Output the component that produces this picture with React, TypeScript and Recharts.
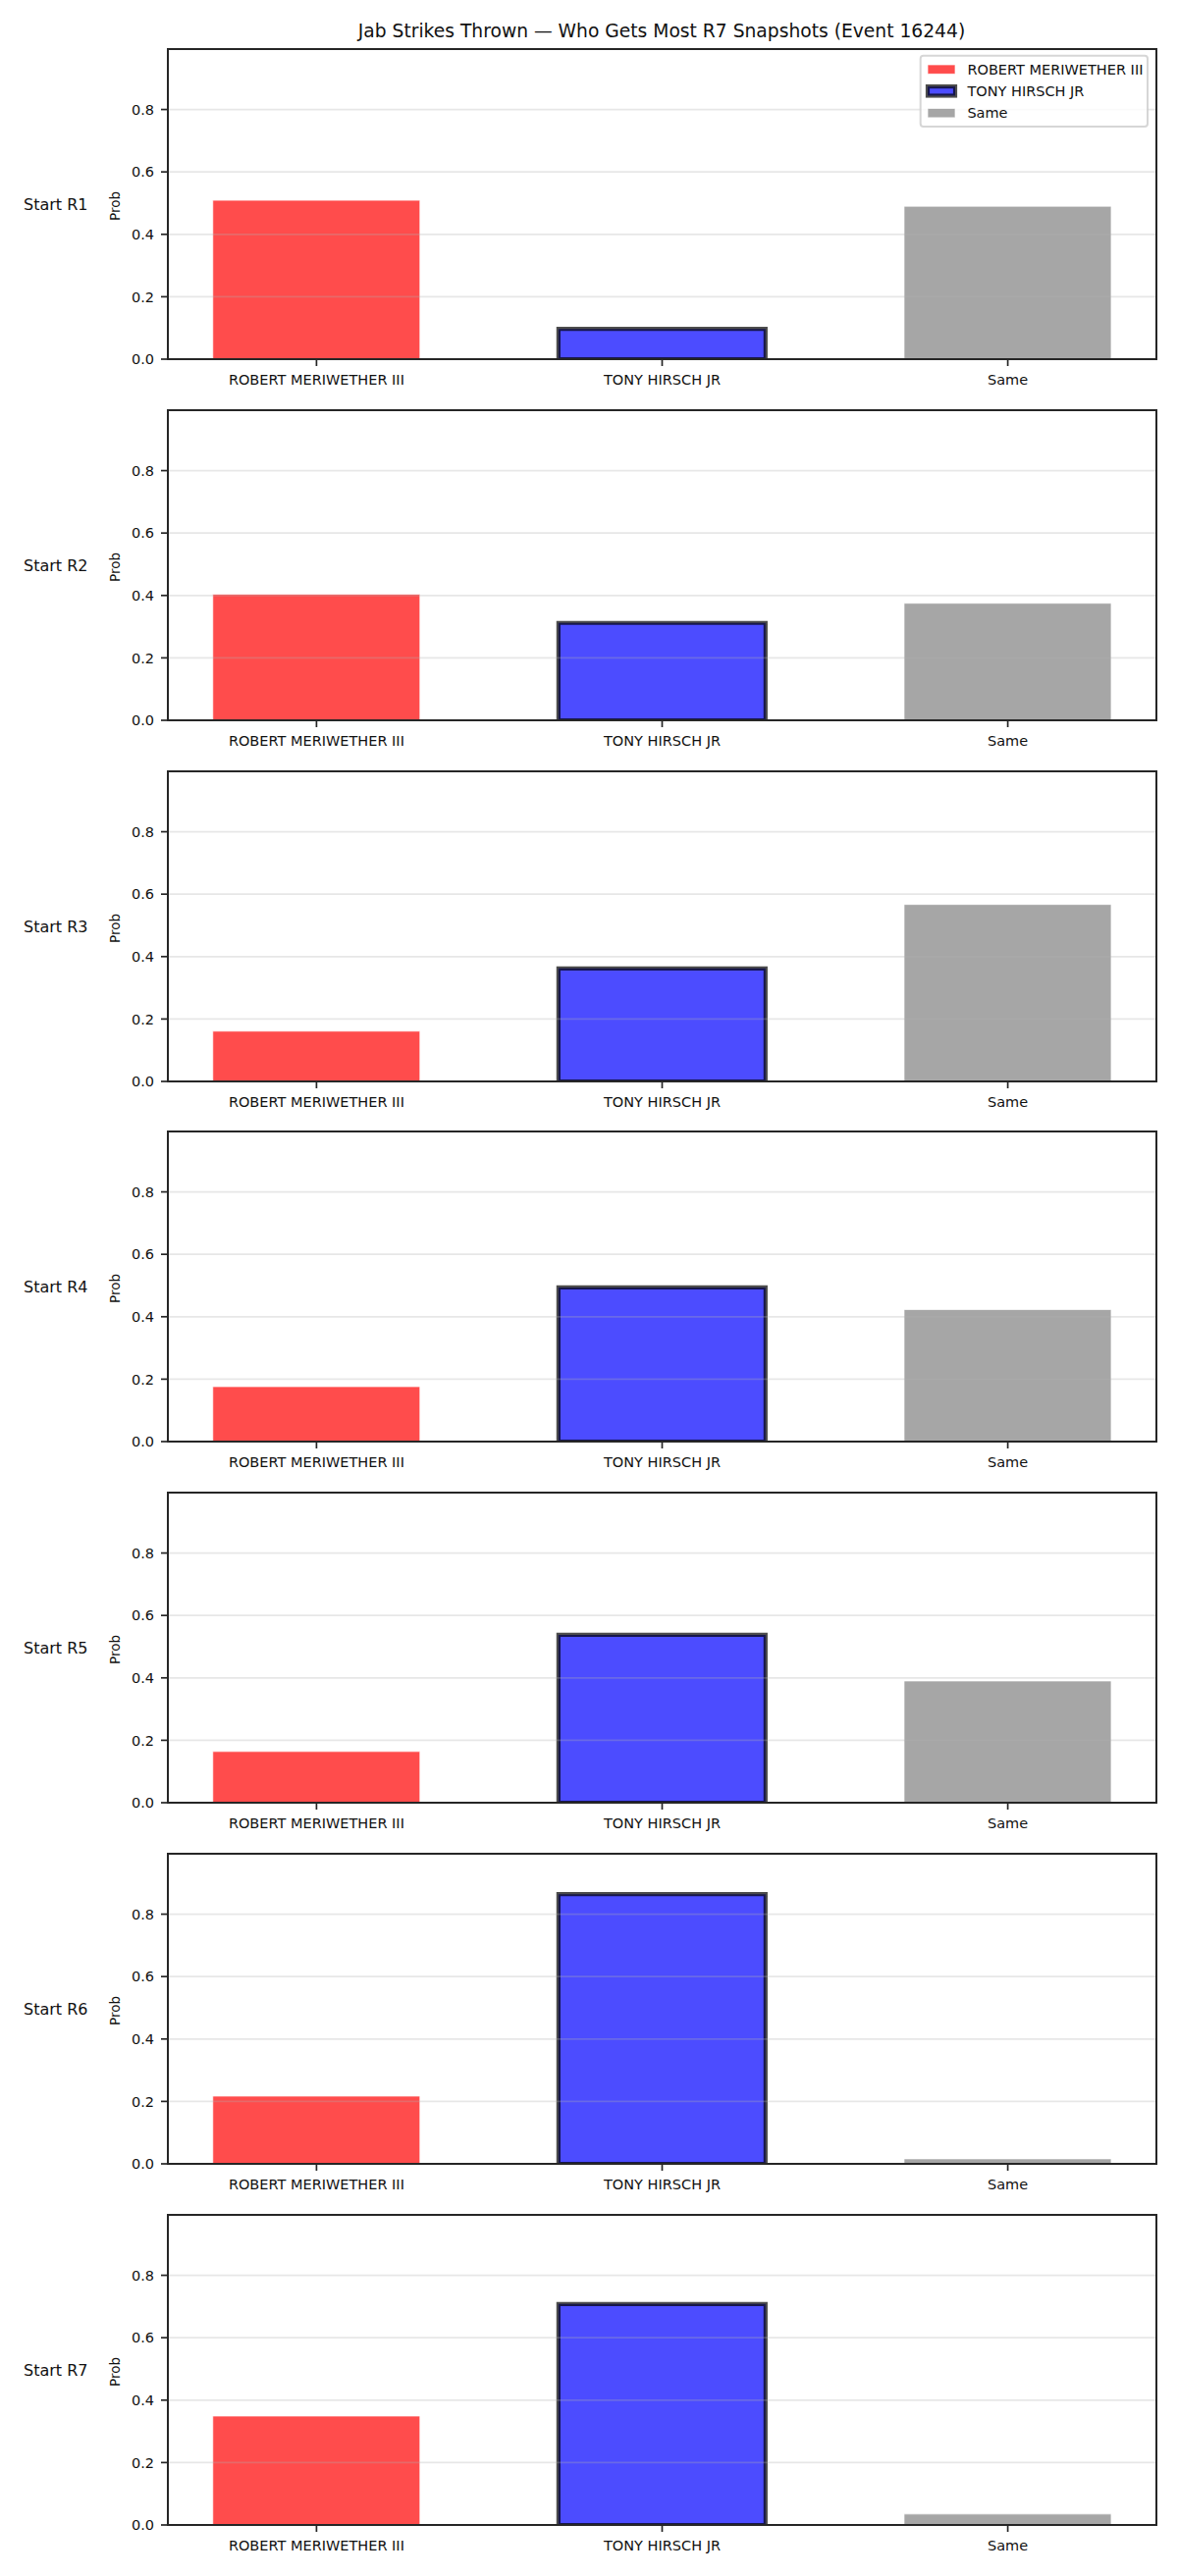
import React from 'react';
import { BarChart, Bar, XAxis, YAxis, CartesianGrid, Cell, ReferenceArea } from 'recharts';

// Outcome categories shown on each panel's x axis
const categories = ['ROBERT MERIWETHER III', 'TONY HIRSCH JR', 'Same'];

// One panel per starting round
const roundLabels = ['Start R1', 'Start R2', 'Start R3', 'Start R4', 'Start R5', 'Start R6', 'Start R7'];

// Probability that each outcome gets the most R7 snapshots, per starting round
const robertProb = [0.509, 0.404, 0.161, 0.176, 0.164, 0.217, 0.349];
const tonyProb = [0.097, 0.312, 0.362, 0.494, 0.538, 0.864, 0.708];
const sameProb = [0.490, 0.375, 0.567, 0.423, 0.390, 0.016, 0.035];

const yTicks = [0, 0.2, 0.4, 0.6, 0.8];
const xTicks = [0, 1, 2];

const TITLE = 'Jab Strikes Thrown \u2014 Who Gets Most R7 Snapshots (Event 16244)';
const FONT = '"DejaVu Sans", "Liberation Sans", sans-serif';

const seriesProbs = [robertProb, tonyProb, sameProb];
const Y_MAX = Math.max(...tonyProb, ...robertProb, ...sameProb) * 1.15;
const X_DOMAIN: [number, number] = [-0.43, 2.43];

const SPINE = '#262626';

type Look = { fill: string; stroke: string; strokeOpacity: number; strokeWidth: number };
const looks: Look[] = [
  { fill: '#ff0000', stroke: '#ffffff', strokeOpacity: 0.7, strokeWidth: 1 },
  { fill: '#0000ff', stroke: '#000000', strokeOpacity: 0.7, strokeWidth: 4.2 },
  { fill: '#808080', stroke: '#ffffff', strokeOpacity: 0.7, strokeWidth: 1 },
];

const PANEL_PITCH = 367.83;
const CHART_H = 410;
const PLOT_TOP = 50;
const PLOT_H = 316;

function Panel({ index }: { index: number }) {
  const data = categories.map((name, i) => ({ pos: i, name, prob: seriesProbs[i][index] }));
  const top = Math.round(index * PANEL_PITCH);
  return (
    <div style={{ position: 'absolute', left: 0, top, width: 1200, height: CHART_H }}>
      <BarChart
        width={1200}
        height={CHART_H}
        data={data}
        margin={{ top: PLOT_TOP, right: 22, bottom: 0, left: 0 }}
        barCategoryGap="20%"
      >
        <XAxis
          type="number"
          dataKey="pos"
          domain={X_DOMAIN}
          ticks={xTicks}
          interval={0}
          allowDataOverflow
          tickFormatter={(v: number) => categories[v] ?? ''}
          height={CHART_H - PLOT_TOP - PLOT_H}
          tickSize={7}
          tickMargin={9}
          axisLine={{ stroke: SPINE, strokeWidth: 2 }}
          tickLine={{ stroke: SPINE, strokeWidth: 1.7 }}
          tick={{ fontSize: 14.5, fill: '#111', fontFamily: FONT }}
        />
        <YAxis
          type="number"
          domain={[0, Y_MAX]}
          ticks={yTicks}
          interval={0}
          allowDataOverflow
          width={171}
          tickSize={7}
          tickMargin={7}
          tickFormatter={(v: number) => v.toFixed(1)}
          axisLine={{ stroke: SPINE, strokeWidth: 2 }}
          tickLine={{ stroke: SPINE, strokeWidth: 1.7 }}
          tick={{ fontSize: 14.5, fill: '#111', fontFamily: FONT }}
        />
        <Bar dataKey="prob" isAnimationActive={false}>
          {data.map((d, i) => (
            <Cell
              key={d.name}
              fill={looks[i].fill}
              fillOpacity={0.7}
              stroke={looks[i].stroke}
              strokeOpacity={looks[i].strokeOpacity}
              strokeWidth={looks[i].strokeWidth}
            />
          ))}
        </Bar>
        <CartesianGrid
          vertical={false}
          stroke="#b0b0b0"
          strokeOpacity={0.3}
          strokeWidth={1.7}
          zIndex={350}
        />
        <ReferenceArea
          x1={X_DOMAIN[0]}
          x2={X_DOMAIN[1]}
          y1={0}
          y2={Y_MAX}
          fill="none"
          fillOpacity={0}
          stroke={SPINE}
          strokeWidth={2}
          zIndex={600}
        />
      </BarChart>
    </div>
  );
}

function Annotations() {
  const legendRows = [
    { label: categories[0], look: looks[0], cy: 70.7 },
    { label: categories[1], look: looks[1], cy: 92.8 },
    { label: categories[2], look: looks[2], cy: 115.2 },
  ];
  return (
    <svg
      width={1200}
      height={2625}
      style={{ position: 'absolute', left: 0, top: 0, pointerEvents: 'none', fontFamily: FONT }}
    >
      <text x={674} y={37.5} textAnchor="middle" fontSize={18.7} fill="#111">
        {TITLE}
      </text>
      {roundLabels.map((lab, k) => {
        const cy = Math.round(k * PANEL_PITCH) + PLOT_TOP + PLOT_H / 2;
        return (
          <g key={lab}>
            <text x={24} y={cy} dominantBaseline="central" fontSize={16} fill="#111">
              {lab}
            </text>
            <text
              x={116.7}
              y={cy + 2}
              transform={`rotate(-90 116.7 ${cy + 2})`}
              textAnchor="middle"
              dominantBaseline="central"
              fontSize={13.5}
              fill="#111"
            >
              Prob
            </text>
          </g>
        );
      })}
      <rect
        x={937.7}
        y={56.7}
        width={231.3}
        height={72.3}
        rx={3}
        fill="#ffffff"
        fillOpacity={0.8}
        stroke="#cccccc"
        strokeOpacity={0.8}
        strokeWidth={2}
      />
      {legendRows.map((r) => (
        <g key={r.label}>
          <rect
            x={945}
            y={r.cy - 4.7}
            width={28}
            height={9.4}
            fill={r.look.fill}
            fillOpacity={0.7}
            stroke={r.look.stroke}
            strokeOpacity={r.look.strokeOpacity}
            strokeWidth={r.look.strokeWidth}
          />
          <text x={985.4} y={r.cy + 5.2} fontSize={14.5} fill="#111">
            {r.label}
          </text>
        </g>
      ))}
    </svg>
  );
}

export default function App() {
  return (
    <div
      style={{
        position: 'absolute',
        left: 0,
        top: 0,
        width: 1200,
        height: 2625,
        background: '#ffffff',
        fontFamily: FONT,
        overflow: 'hidden',
      }}
    >
      {roundLabels.map((lab, k) => (
        <Panel key={lab} index={k} />
      ))}
      <Annotations />
    </div>
  );
}
